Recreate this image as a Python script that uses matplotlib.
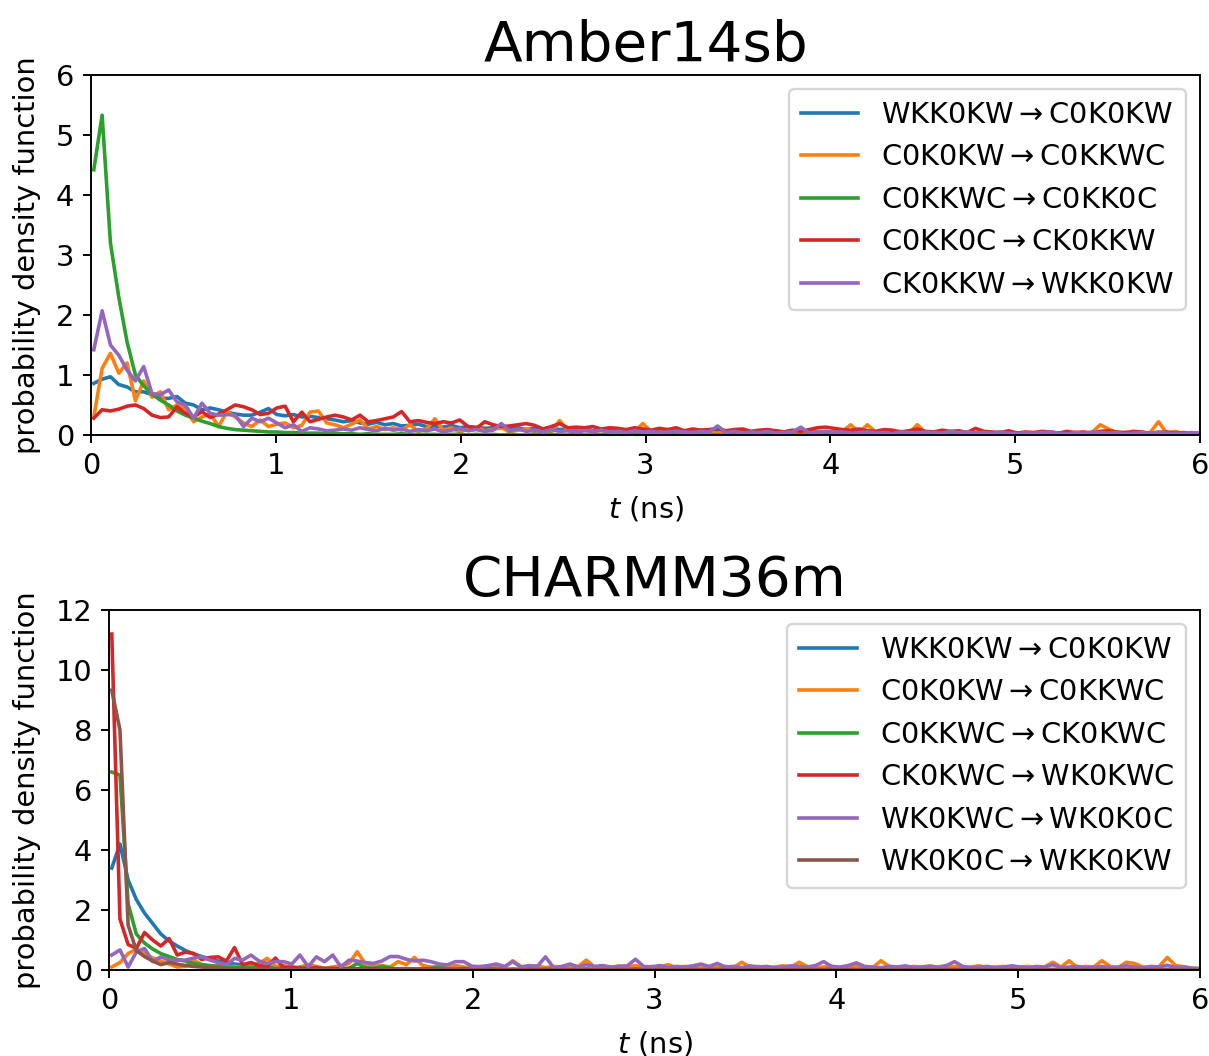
"""Transition waiting-time densities for Amber14sb and CHARMM36m."""

import matplotlib

matplotlib.use("Agg")
import matplotlib.pyplot as plt
import numpy as np

DPI = 173

# histogram bins: first centre and bin width (ns)
BIN_START = 0.015
BIN_WIDTH = 0.045

# ---- Amber14sb ----
amber_labels = [
    r"WKK0KW$\rightarrow$C0K0KW",
    r"C0K0KW$\rightarrow$C0KKWC",
    r"C0KKWC$\rightarrow$C0KK0C",
    r"C0KK0C$\rightarrow$CK0KKW",
    r"CK0KKW$\rightarrow$WKK0KW",
]
amber_wkk0kw = [
    0.86, 0.93, 0.97, 0.84, 0.80, 0.72, 0.72, 0.67, 0.61, 0.61,
    0.64, 0.53, 0.50, 0.42, 0.45, 0.42, 0.38, 0.35, 0.33, 0.33,
    0.38, 0.44, 0.34, 0.32, 0.34, 0.30, 0.31, 0.29, 0.27, 0.25,
    0.22, 0.24, 0.20, 0.18, 0.21, 0.17, 0.19, 0.15, 0.16, 0.18,
    0.14, 0.15, 0.13, 0.16, 0.12, 0.14, 0.13, 0.11, 0.12, 0.13,
    0.10, 0.12, 0.09, 0.11, 0.10, 0.12, 0.09, 0.10, 0.08, 0.09,
    0.07, 0.09, 0.08, 0.06, 0.08, 0.07, 0.09, 0.06, 0.07, 0.08,
    0.06, 0.07, 0.05, 0.08, 0.06, 0.07, 0.05, 0.06, 0.07, 0.05,
    0.06, 0.04, 0.06, 0.05, 0.07, 0.04, 0.05, 0.06, 0.04, 0.05,
    0.04, 0.06, 0.03, 0.05, 0.04, 0.05, 0.03, 0.04, 0.05, 0.03,
    0.04, 0.03, 0.05, 0.03, 0.04, 0.02, 0.04, 0.03, 0.03, 0.04,
    0.02, 0.03, 0.04, 0.02, 0.03, 0.02, 0.03, 0.04, 0.02, 0.03,
    0.02, 0.03, 0.02, 0.03, 0.02, 0.01, 0.03, 0.02, 0.02, 0.01,
    0.02, 0.01, 0.02, 0.01,
]
amber_c0k0kw = [
    0.30, 1.11, 1.36, 1.03, 1.20, 0.57, 0.90, 0.63, 0.72, 0.42,
    0.50, 0.44, 0.22, 0.30, 0.35, 0.14, 0.39, 0.30, 0.20, 0.14,
    0.25, 0.14, 0.18, 0.20, 0.12, 0.16, 0.38, 0.40, 0.20, 0.17,
    0.12, 0.18, 0.25, 0.10, 0.14, 0.09, 0.12, 0.08, 0.17, 0.06,
    0.10, 0.27, 0.08, 0.12, 0.05, 0.10, 0.13, 0.07, 0.09, 0.12,
    0.05, 0.08, 0.10, 0.06, 0.09, 0.05, 0.24, 0.07, 0.06, 0.09,
    0.05, 0.08, 0.04, 0.10, 0.06, 0.05, 0.19, 0.06, 0.04, 0.08,
    0.05, 0.07, 0.04, 0.09, 0.05, 0.03, 0.07, 0.05, 0.04, 0.06,
    0.03, 0.08, 0.04, 0.05, 0.03, 0.06, 0.04, 0.05, 0.03, 0.04,
    0.06, 0.17, 0.04, 0.17, 0.05, 0.03, 0.04, 0.06, 0.03, 0.17,
    0.04, 0.05, 0.03, 0.04, 0.02, 0.05, 0.03, 0.04, 0.02, 0.03,
    0.05, 0.03, 0.02, 0.04, 0.03, 0.05, 0.02, 0.03, 0.04, 0.03,
    0.04, 0.17, 0.10, 0.03, 0.04, 0.03, 0.02, 0.04, 0.22, 0.03,
    0.06, 0.02, 0.03, 0.02,
]
amber_c0kkwc = [
    4.42, 5.33, 3.20, 2.30, 1.55, 1.00, 0.82, 0.68, 0.58, 0.50,
    0.40, 0.33, 0.28, 0.23, 0.19, 0.14, 0.11, 0.09, 0.08, 0.07,
    0.06, 0.05, 0.05, 0.04, 0.04, 0.03, 0.03, 0.03, 0.02, 0.02,
    0.02, 0.02, 0.01, 0.02, 0.01, 0.01, 0.01, 0.02, 0.01, 0.01,
    0.01, 0.01, 0.00, 0.01, 0.01, 0.00, 0.01, 0.00, 0.01, 0.00,
    0.01, 0.00, 0.00, 0.01, 0.00, 0.01, 0.00, 0.00, 0.01, 0.00,
    0.00, 0.01, 0.00, 0.00, 0.00, 0.01, 0.00, 0.00, 0.00, 0.01,
    0.00, 0.00, 0.01, 0.00, 0.00, 0.00, 0.00, 0.01, 0.00, 0.00,
    0.00, 0.00, 0.00, 0.01, 0.00, 0.00, 0.00, 0.00, 0.00, 0.00,
    0.01, 0.00, 0.00, 0.00, 0.00, 0.00, 0.00, 0.00, 0.01, 0.00,
    0.00, 0.00, 0.00, 0.00, 0.00, 0.00, 0.00, 0.00, 0.00, 0.00,
    0.00, 0.00, 0.00, 0.00, 0.00, 0.00, 0.00, 0.00, 0.00, 0.00,
    0.00, 0.00, 0.00, 0.00, 0.00, 0.00, 0.00, 0.00, 0.00, 0.00,
    0.00, 0.00, 0.00, 0.00,
]
amber_c0kk0c = [
    0.28, 0.42, 0.40, 0.43, 0.48, 0.50, 0.44, 0.33, 0.29, 0.30,
    0.47, 0.36, 0.30, 0.39, 0.29, 0.35, 0.42, 0.50, 0.47, 0.42,
    0.34, 0.36, 0.45, 0.48, 0.22, 0.38, 0.22, 0.26, 0.30, 0.33,
    0.30, 0.25, 0.33, 0.22, 0.24, 0.27, 0.30, 0.39, 0.22, 0.24,
    0.21, 0.19, 0.22, 0.20, 0.25, 0.14, 0.11, 0.22, 0.17, 0.14,
    0.15, 0.17, 0.19, 0.16, 0.10, 0.14, 0.19, 0.12, 0.13, 0.12,
    0.14, 0.10, 0.12, 0.11, 0.09, 0.12, 0.10, 0.08, 0.11, 0.09,
    0.12, 0.07, 0.10, 0.08, 0.09, 0.11, 0.07, 0.09, 0.10, 0.06,
    0.08, 0.09, 0.07, 0.05, 0.08, 0.06, 0.09, 0.12, 0.13, 0.11,
    0.09, 0.08, 0.10, 0.07, 0.06, 0.09, 0.08, 0.05, 0.07, 0.10,
    0.06, 0.05, 0.08, 0.06, 0.07, 0.04, 0.11, 0.06, 0.05, 0.04,
    0.07, 0.03, 0.05, 0.04, 0.06, 0.05, 0.03, 0.06, 0.04, 0.05,
    0.03, 0.06, 0.07, 0.05, 0.04, 0.06, 0.05, 0.03, 0.04, 0.05,
    0.03, 0.04, 0.03, 0.03,
]
amber_ck0kkw = [
    1.42, 2.07, 1.50, 1.33, 1.08, 0.90, 1.14, 0.69, 0.67, 0.75,
    0.55, 0.50, 0.28, 0.53, 0.36, 0.33, 0.34, 0.33, 0.14, 0.28,
    0.22, 0.28, 0.20, 0.12, 0.17, 0.06, 0.12, 0.10, 0.07, 0.08,
    0.10, 0.08, 0.12, 0.09, 0.07, 0.11, 0.08, 0.10, 0.06, 0.09,
    0.07, 0.10, 0.05, 0.08, 0.11, 0.07, 0.09, 0.06, 0.08, 0.19,
    0.07, 0.10, 0.06, 0.08, 0.05, 0.09, 0.06, 0.07, 0.05, 0.07,
    0.06, 0.08, 0.05, 0.06, 0.04, 0.07, 0.05, 0.06, 0.04, 0.05,
    0.06, 0.05, 0.04, 0.06, 0.05, 0.15, 0.04, 0.06, 0.03, 0.05,
    0.04, 0.06, 0.03, 0.04, 0.05, 0.13, 0.03, 0.04, 0.06, 0.04,
    0.05, 0.03, 0.04, 0.05, 0.03, 0.04, 0.02, 0.05, 0.04, 0.03,
    0.05, 0.04, 0.03, 0.06, 0.04, 0.05, 0.03, 0.04, 0.03, 0.05,
    0.03, 0.02, 0.04, 0.03, 0.04, 0.05, 0.03, 0.02, 0.04, 0.03,
    0.05, 0.04, 0.03, 0.04, 0.02, 0.03, 0.04, 0.03, 0.05, 0.03,
    0.02, 0.03, 0.04, 0.02,
]

# ---- CHARMM36m ----
charmm_labels = [
    r"WKK0KW$\rightarrow$C0K0KW",
    r"C0K0KW$\rightarrow$C0KKWC",
    r"C0KKWC$\rightarrow$CK0KWC",
    r"CK0KWC$\rightarrow$WK0KWC",
    r"WK0KWC$\rightarrow$WK0K0C",
    r"WK0K0C$\rightarrow$WKK0KW",
]
charmm_wkk0kw = [
    3.40, 4.20, 3.00, 2.35, 1.90, 1.55, 1.20, 0.97, 0.80, 0.65,
    0.54, 0.45, 0.37, 0.30, 0.25, 0.20, 0.17, 0.14, 0.12, 0.10,
    0.09, 0.08, 0.07, 0.06, 0.06, 0.05, 0.05, 0.04, 0.04, 0.03,
    0.04, 0.03, 0.03, 0.02, 0.03, 0.02, 0.02, 0.03, 0.02, 0.02,
    0.02, 0.01, 0.02, 0.02, 0.01, 0.02, 0.01, 0.02, 0.01, 0.01,
    0.02, 0.01, 0.01, 0.02, 0.01, 0.01, 0.01, 0.02, 0.01, 0.01,
    0.01, 0.01, 0.02, 0.01, 0.01, 0.01, 0.01, 0.01, 0.02, 0.01,
    0.01, 0.01, 0.01, 0.01, 0.01, 0.02, 0.01, 0.01, 0.01, 0.01,
    0.01, 0.01, 0.01, 0.01, 0.01, 0.01, 0.01, 0.01, 0.01, 0.01,
    0.01, 0.01, 0.01, 0.01, 0.01, 0.01, 0.01, 0.01, 0.01, 0.01,
    0.01, 0.01, 0.01, 0.01, 0.01, 0.01, 0.01, 0.01, 0.01, 0.01,
    0.01, 0.01, 0.01, 0.01, 0.01, 0.01, 0.01, 0.01, 0.01, 0.01,
    0.01, 0.01, 0.01, 0.01, 0.01, 0.01, 0.01, 0.01, 0.01, 0.01,
    0.01, 0.01, 0.01, 0.01,
]
charmm_c0k0kw = [
    0.10, 0.25, 0.55, 0.70, 0.55, 0.40, 0.30, 0.20, 0.10, 0.12,
    0.33, 0.18, 0.12, 0.15, 0.10, 0.12, 0.08, 0.15, 0.22, 0.39,
    0.12, 0.15, 0.08, 0.10, 0.18, 0.12, 0.06, 0.10, 0.14, 0.22,
    0.61, 0.20, 0.12, 0.15, 0.10, 0.28, 0.18, 0.42, 0.15, 0.10,
    0.12, 0.08, 0.15, 0.10, 0.06, 0.12, 0.10, 0.15, 0.08, 0.31,
    0.12, 0.10, 0.14, 0.08, 0.12, 0.10, 0.15, 0.12, 0.33, 0.10,
    0.12, 0.08, 0.14, 0.10, 0.15, 0.08, 0.12, 0.10, 0.18, 0.08,
    0.12, 0.10, 0.14, 0.08, 0.10, 0.12, 0.09, 0.26, 0.10, 0.12,
    0.08, 0.10, 0.14, 0.10, 0.26, 0.12, 0.08, 0.10, 0.12, 0.08,
    0.10, 0.14, 0.10, 0.08, 0.31, 0.12, 0.10, 0.08, 0.12, 0.10,
    0.14, 0.08, 0.10, 0.12, 0.08, 0.10, 0.14, 0.08, 0.10, 0.12,
    0.08, 0.10, 0.12, 0.08, 0.10, 0.26, 0.10, 0.31, 0.08, 0.12,
    0.10, 0.31, 0.12, 0.08, 0.26, 0.22, 0.10, 0.08, 0.12, 0.42,
    0.15, 0.11, 0.06, 0.05,
]
charmm_c0kkwc = [
    6.60, 6.50, 2.20, 1.20, 0.90, 0.70, 0.55, 0.45, 0.35, 0.30,
    0.22, 0.18, 0.15, 0.12, 0.10, 0.08, 0.07, 0.09, 0.06, 0.07,
    0.05, 0.06, 0.04, 0.08, 0.05, 0.04, 0.06, 0.03, 0.05, 0.06,
    0.22, 0.08, 0.05, 0.12, 0.06, 0.04, 0.05, 0.03, 0.04, 0.05,
    0.10, 0.04, 0.03, 0.05, 0.03, 0.02, 0.04, 0.03, 0.02, 0.03,
    0.02, 0.04, 0.02, 0.03, 0.02, 0.02, 0.03, 0.02, 0.04, 0.02,
    0.02, 0.03, 0.02, 0.02, 0.04, 0.02, 0.02, 0.03, 0.02, 0.02,
    0.02, 0.03, 0.02, 0.02, 0.02, 0.03, 0.02, 0.02, 0.02, 0.02,
    0.03, 0.02, 0.02, 0.02, 0.08, 0.02, 0.02, 0.02, 0.03, 0.02,
    0.02, 0.02, 0.02, 0.02, 0.02, 0.02, 0.03, 0.02, 0.02, 0.02,
    0.02, 0.02, 0.02, 0.02, 0.02, 0.02, 0.02, 0.02, 0.02, 0.02,
    0.02, 0.02, 0.02, 0.02, 0.02, 0.02, 0.02, 0.02, 0.02, 0.02,
    0.02, 0.02, 0.02, 0.02, 0.02, 0.02, 0.02, 0.02, 0.02, 0.02,
    0.02, 0.02, 0.02, 0.02,
]
charmm_ck0kwc = [
    11.20, 1.70, 0.85, 0.72, 1.25, 1.00, 0.80, 1.05, 0.50, 0.60,
    0.55, 0.35, 0.42, 0.44, 0.30, 0.75, 0.18, 0.25, 0.15, 0.12,
    0.40, 0.08, 0.10, 0.06, 0.05, 0.08, 0.04, 0.06, 0.03, 0.05,
    0.04, 0.03, 0.05, 0.02, 0.04, 0.03, 0.02, 0.03, 0.02, 0.04,
    0.02, 0.01, 0.02, 0.03, 0.01, 0.02, 0.01, 0.02, 0.01, 0.02,
    0.01, 0.02, 0.01, 0.01, 0.02, 0.01, 0.01, 0.02, 0.01, 0.01,
    0.01, 0.02, 0.01, 0.01, 0.01, 0.01, 0.02, 0.01, 0.01, 0.01,
    0.01, 0.01, 0.01, 0.01, 0.01, 0.01, 0.01, 0.01, 0.01, 0.01,
    0.05, 0.01, 0.01, 0.01, 0.01, 0.01, 0.01, 0.01, 0.01, 0.01,
    0.01, 0.01, 0.01, 0.01, 0.01, 0.01, 0.01, 0.01, 0.01, 0.01,
    0.01, 0.01, 0.01, 0.01, 0.01, 0.01, 0.01, 0.01, 0.01, 0.01,
    0.01, 0.01, 0.01, 0.01, 0.01, 0.01, 0.01, 0.01, 0.01, 0.01,
    0.01, 0.01, 0.01, 0.01, 0.01, 0.01, 0.01, 0.01, 0.01, 0.01,
    0.01, 0.01, 0.01, 0.01,
]
charmm_wk0kwc = [
    0.50, 0.67, 0.10, 0.60, 0.72, 0.28, 0.44, 0.33, 0.33, 0.33,
    0.40, 0.44, 0.33, 0.25, 0.17, 0.39, 0.33, 0.50, 0.30, 0.22,
    0.28, 0.28, 0.20, 0.50, 0.11, 0.44, 0.28, 0.50, 0.11, 0.33,
    0.30, 0.25, 0.22, 0.30, 0.45, 0.45, 0.36, 0.30, 0.33, 0.28,
    0.20, 0.17, 0.28, 0.28, 0.13, 0.11, 0.15, 0.20, 0.12, 0.28,
    0.10, 0.15, 0.12, 0.44, 0.08, 0.12, 0.20, 0.10, 0.18, 0.12,
    0.15, 0.10, 0.12, 0.14, 0.36, 0.12, 0.10, 0.15, 0.08, 0.12,
    0.10, 0.14, 0.20, 0.12, 0.22, 0.10, 0.12, 0.08, 0.14, 0.10,
    0.12, 0.08, 0.10, 0.14, 0.12, 0.10, 0.15, 0.28, 0.12, 0.10,
    0.15, 0.24, 0.12, 0.10, 0.08, 0.12, 0.10, 0.14, 0.08, 0.10,
    0.12, 0.10, 0.15, 0.28, 0.12, 0.08, 0.10, 0.12, 0.08, 0.10,
    0.14, 0.10, 0.08, 0.12, 0.10, 0.18, 0.08, 0.10, 0.12, 0.08,
    0.10, 0.12, 0.08, 0.10, 0.14, 0.10, 0.08, 0.12, 0.10, 0.16,
    0.08, 0.10, 0.06, 0.05,
]
charmm_wk0k0c = [
    9.33, 8.00, 1.50, 0.65, 0.45, 0.30, 0.18, 0.25, 0.20, 0.15,
    0.12, 0.10, 0.08, 0.06, 0.05, 0.04, 0.03, 0.03, 0.02, 0.02,
    0.02, 0.01, 0.02, 0.01, 0.01, 0.01, 0.01, 0.01, 0.01, 0.01,
    0.01, 0.01, 0.00, 0.01, 0.01, 0.00, 0.01, 0.00, 0.00, 0.01,
    0.00, 0.00, 0.01, 0.00, 0.00, 0.00, 0.01, 0.00, 0.00, 0.00,
    0.00, 0.00, 0.00, 0.01, 0.00, 0.00, 0.00, 0.00, 0.00, 0.00,
    0.00, 0.00, 0.00, 0.00, 0.00, 0.00, 0.00, 0.00, 0.00, 0.00,
    0.00, 0.00, 0.00, 0.00, 0.00, 0.00, 0.00, 0.00, 0.00, 0.00,
    0.00, 0.00, 0.00, 0.00, 0.00, 0.00, 0.00, 0.00, 0.00, 0.00,
    0.00, 0.00, 0.00, 0.00, 0.00, 0.00, 0.00, 0.00, 0.00, 0.00,
    0.00, 0.00, 0.00, 0.00, 0.00, 0.00, 0.00, 0.00, 0.00, 0.00,
    0.00, 0.00, 0.00, 0.00, 0.00, 0.00, 0.00, 0.00, 0.00, 0.00,
    0.00, 0.00, 0.00, 0.00, 0.00, 0.00, 0.00, 0.00, 0.00, 0.00,
    0.00, 0.00, 0.00, 0.00,
]

amber_series = [amber_wkk0kw, amber_c0k0kw, amber_c0kkwc, amber_c0kk0c, amber_ck0kkw]
charmm_series = [
    charmm_wkk0kw, charmm_c0k0kw, charmm_c0kkwc,
    charmm_ck0kwc, charmm_wk0kwc, charmm_wk0k0c,
]


def draw_panel(ax, title, series, labels, ymax, ystep):
    """Draw one force field's transition densities."""
    for values, label in zip(series, labels):
        t = BIN_START + BIN_WIDTH * np.arange(len(values))
        ax.plot(t, values, linewidth=1.5, label=label)
    ax.set_title(title, fontsize=23.5)
    ax.set_xlim(0, 6)
    ax.set_ylim(0, ymax)
    ax.set_yticks(np.arange(0, ymax + 1, ystep))
    ax.set_xlabel(r"$t$ (ns)", fontsize=12, labelpad=6)
    ax.set_ylabel("probability density function", fontsize=12, labelpad=6)
    ax.tick_params(labelsize=12)
    ax.legend(loc="upper right", fontsize=12)


def main():
    fig = plt.figure(figsize=(1209 / DPI, 1056 / DPI), dpi=DPI)
    ax_top = fig.add_axes([0.0753, 0.5881, 0.9173, 0.3409])
    ax_bot = fig.add_axes([0.0902, 0.0814, 0.9024, 0.3409])

    draw_panel(ax_top, "Amber14sb", amber_series, amber_labels, 6, 1)
    draw_panel(ax_bot, "CHARMM36m", charmm_series, charmm_labels, 12, 2)

    fig.savefig("out.png", dpi=DPI)
    plt.close(fig)


if __name__ == "__main__":
    main()
